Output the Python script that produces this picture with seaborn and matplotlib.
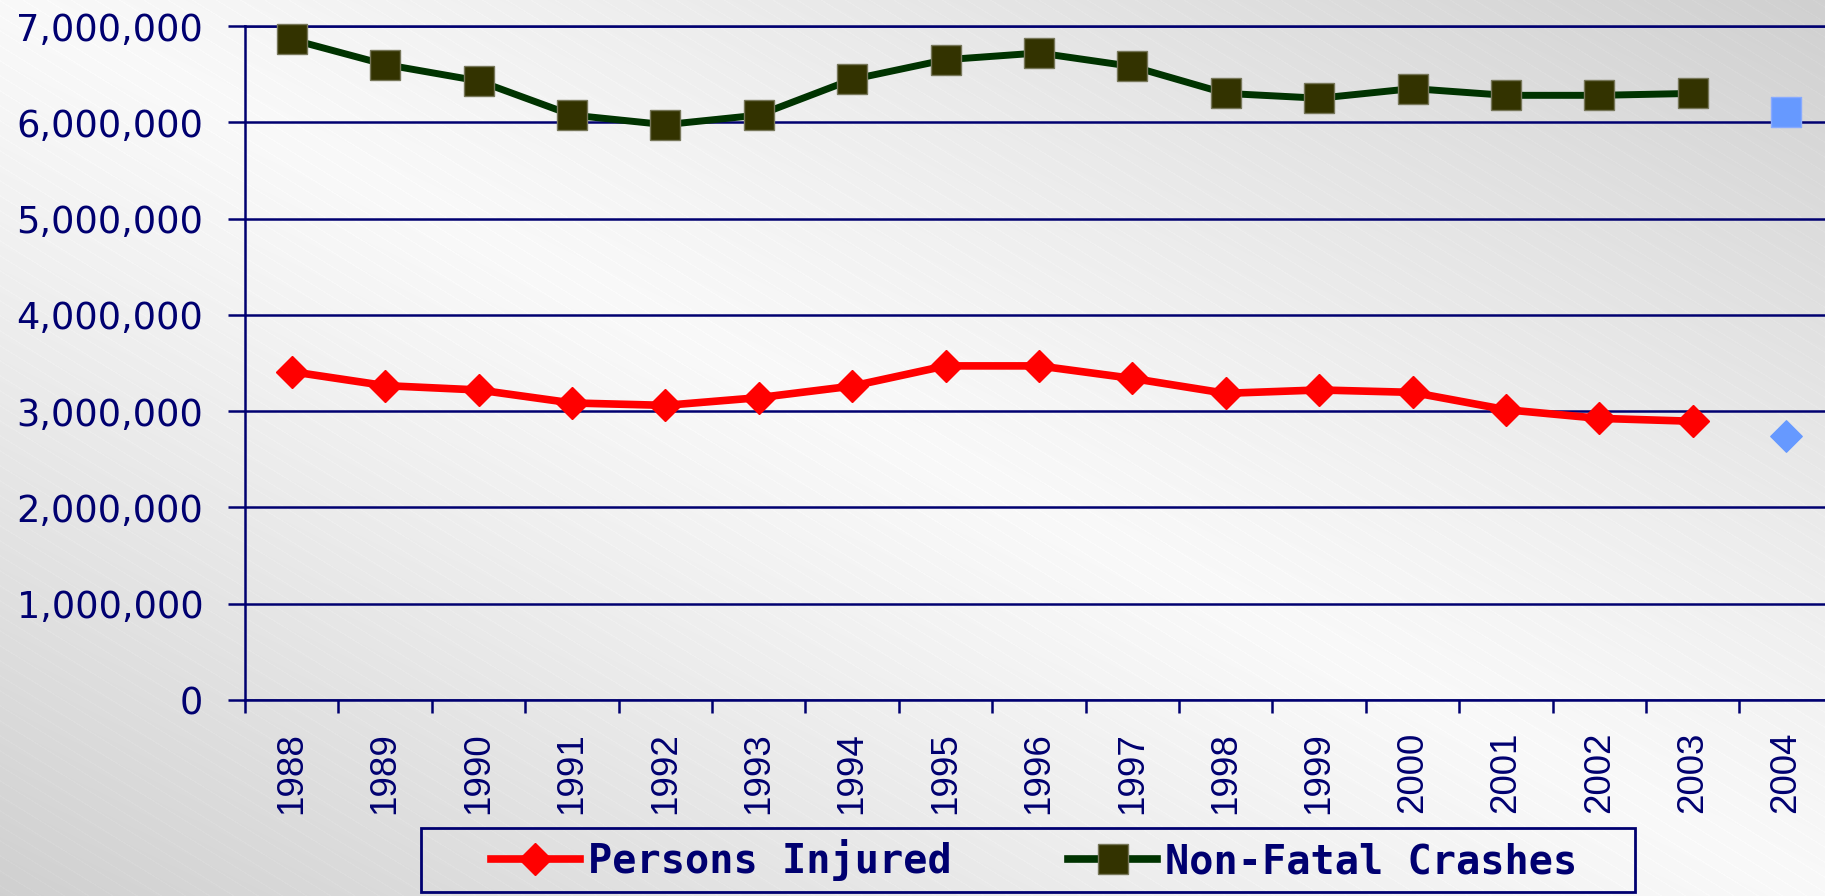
import numpy as np
import pandas as pd
import matplotlib
matplotlib.use('Agg')
import matplotlib.pyplot as plt
from matplotlib.lines import Line2D
from matplotlib.patches import Rectangle
from matplotlib.ticker import FuncFormatter, FixedLocator
import seaborn as sns

# data
years = [str(y) for y in range(1988, 2005)]
persons_injured = [3410000, 3265000, 3220000, 3085000, 3060000, 3140000, 3260000, 3470000,
                   3470000, 3340000, 3185000, 3220000, 3195000, 3015000, 2925000, 2895000]
non_fatal_crashes = [6860000, 6600000, 6430000, 6075000, 5975000, 6075000, 6445000, 6650000,
                     6720000, 6580000, 6300000, 6250000, 6350000, 6280000, 6280000, 6300000]
injured_2004 = [2740000]
crashes_2004 = [6105000]

NAVY = '#000070'
W, H = 1825, 896

fig = plt.figure(figsize=(W / 100, H / 100), dpi=100)

# diagonal grey gradient background with faint stripes
u = np.linspace(0, 1, W)[None, :]
v = np.linspace(0, 1, H)[:, None]
g = 0.975 - 0.16 * np.abs(u - v) ** 1.2
xx, yy = np.meshgrid(np.arange(W), np.arange(H))
stripes = ((yy - 0.62 * xx) % 15) < 1.3
g = g + 0.012 * stripes
g = np.clip(g, 0, 1)
bg = np.dstack([g, g, g])
fig.figimage(bg, 0, 0, origin='upper', zorder=-10)

left = 245 / W
right = (245 + 17 * 93.4) / W
bottom = 1 - 700 / H
top = 1 - 26 / H
ax = fig.add_axes([left, bottom, right - left, top - bottom])
ax.set_facecolor('none')

df = pd.DataFrame({'pos': np.arange(len(persons_injured)),
                   'Persons Injured': persons_injured,
                   'Non-Fatal Crashes': non_fatal_crashes})

sns.lineplot(data=df, x='pos', y='Non-Fatal Crashes', ax=ax, color='#003300', linewidth=5,
             marker='s', markersize=21, markerfacecolor='#333300', markeredgecolor='#77775a',
             markeredgewidth=1, clip_on=False, zorder=4)
sns.lineplot(data=df, x='pos', y='Persons Injured', ax=ax, color='#ff0000', linewidth=5.5,
             marker='D', markersize=16, markerfacecolor='#ff0000', markeredgecolor='#ff0000',
             markeredgewidth=1, clip_on=False, zorder=4)

pos_2004 = [len(years) - 1]
sns.scatterplot(x=pos_2004, y=crashes_2004, ax=ax, marker='s', s=21 ** 2, color='#6699ff',
                edgecolor='#88aaff', linewidth=1, zorder=5, clip_on=False)
sns.scatterplot(x=pos_2004, y=injured_2004, ax=ax, marker='D', s=16 ** 2, color='#6699ff',
                edgecolor='#6699ff', linewidth=1, zorder=5, clip_on=False)

ax.set_xlim(-0.5, len(years) - 0.5)
ax.set_ylim(0, 7000000)
ax.set_xlabel('')
ax.set_ylabel('')

ax.set_yticks(np.arange(0, 7000001, 1000000))
ax.yaxis.set_major_formatter(FuncFormatter(lambda val, p: f'{val:,.0f}'))
ax.tick_params(axis='y', colors=NAVY, labelcolor=NAVY, labelsize=26.5, length=12, width=1.8,
               pad=18)

ax.set_xticks(np.arange(len(years)))
ax.set_xticklabels(years, rotation=90, va='top', ha='center', family='Liberation Sans')
ax.xaxis.set_minor_locator(FixedLocator(np.arange(-0.5, len(years), 1.0)))
ax.tick_params(axis='x', which='major', length=0, labelsize=26.5, labelcolor=NAVY, pad=23)
ax.tick_params(axis='x', which='minor', length=9.5, width=1.8, color=NAVY)

ax.yaxis.grid(True, color=NAVY, linewidth=1.8)
ax.set_axisbelow(True)
for side in ['left', 'bottom', 'top']:
    ax.spines[side].set_color(NAVY)
    ax.spines[side].set_linewidth(1.8)
ax.spines['right'].set_visible(False)

handles = [
    Line2D([], [], color='#ff0000', linewidth=5.5, marker='D', markersize=16,
           markerfacecolor='#ff0000', markeredgecolor='#ff0000'),
    Line2D([], [], color='#003300', linewidth=5.5, marker='s', markersize=21,
           markerfacecolor='#333300', markeredgecolor='#77775a'),
]
leg = fig.legend(handles, ['Persons Injured', 'Non-Fatal Crashes'], loc='center',
                 bbox_to_anchor=(0.5666, 1 - 860 / H), ncol=2, frameon=False,
                 handlelength=2.2, handletextpad=0.2, columnspacing=2.9,
                 prop={'family': 'DejaVu Sans Mono', 'weight': 'bold', 'size': 29})
for t in leg.get_texts():
    t.set_color(NAVY)

fig.patches.append(Rectangle((421 / W, 1 - 892 / H), (1635 - 421) / W, 64 / H,
                             transform=fig.transFigure, fill=False, edgecolor=NAVY,
                             linewidth=2, zorder=3))

fig.savefig('out.png', dpi=100)
